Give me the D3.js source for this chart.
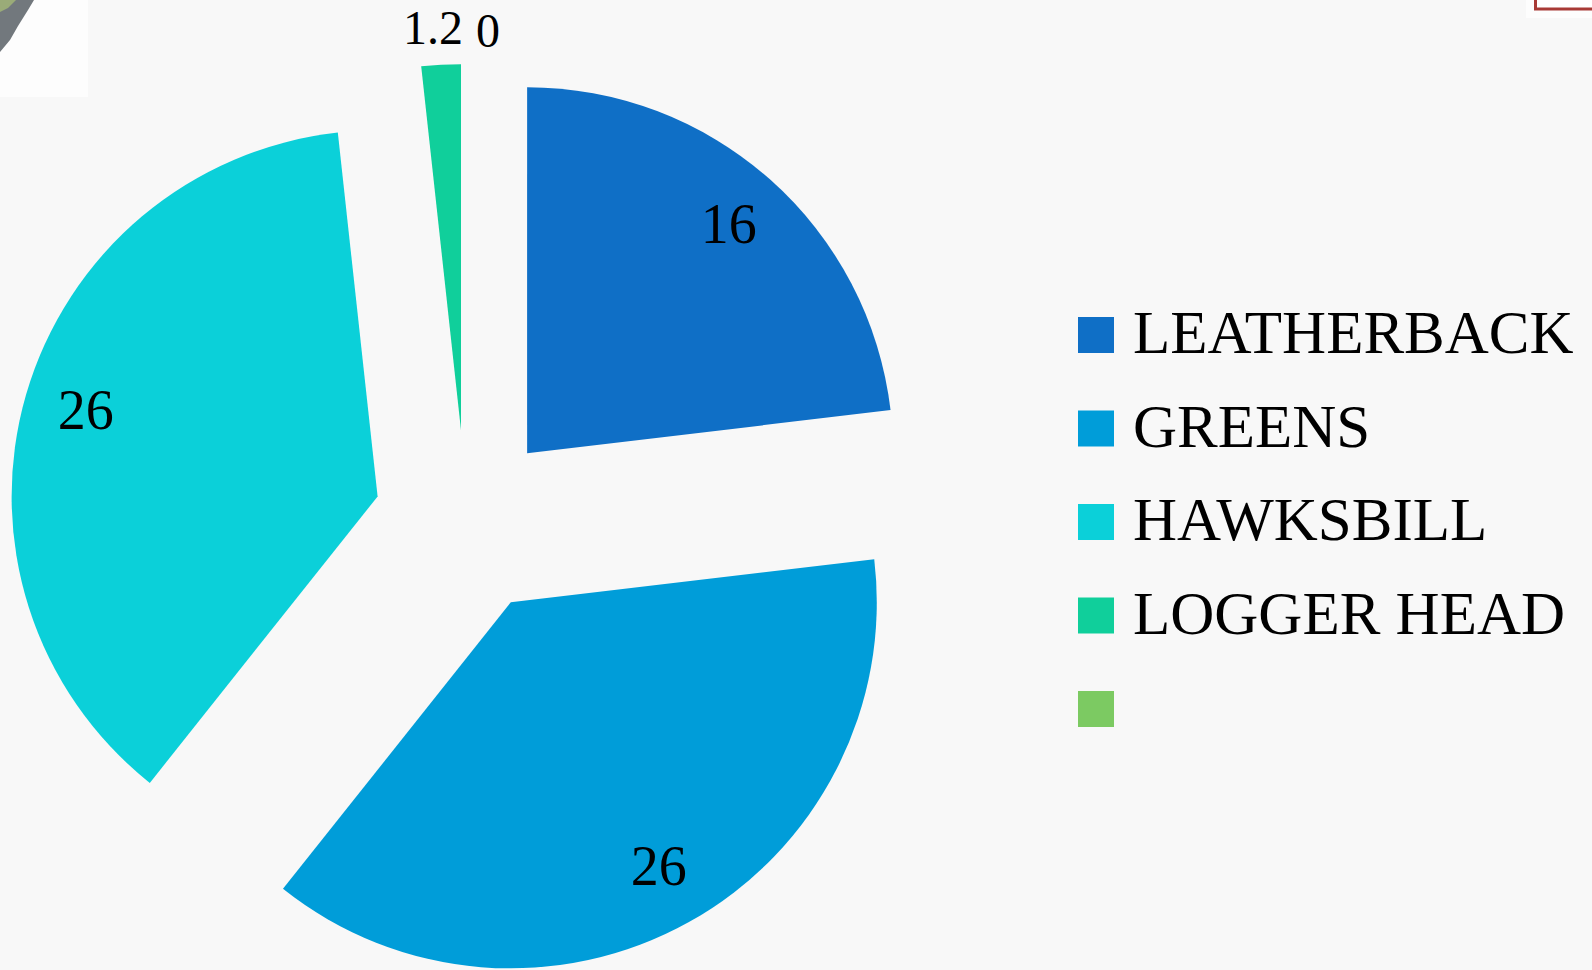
<!DOCTYPE html>
<html lang="en">
<head>
<meta charset="utf-8">
<title>Sea turtle species</title>
<script src="https://d3js.org/d3.v7.min.js"></script>
<style>
  body { margin: 0; background: #f8f8f8; }
  svg { display: block; }
  text { font-family: 'Liberation Serif', 'DejaVu Serif', serif; fill: #000; }
</style>
</head>
<body>
<svg></svg>
<script>
// data
const species = ['LEATHERBACK', 'GREENS', 'HAWKSBILL', 'LOGGER HEAD', ''];
const counts = [16, 26, 26, 1.2, 0];
const valueLabels = ['16', '26', '26', '1.2', '0'];
const colours = ['#0f6fc6', '#009dd9', '#0bd0d9', '#10cf9b', '#7cca62'];

const w = 1592, h = 970;
const cx = 466, cy = 522;      // centre of the un-exploded pie
const r = 366, explode = 92;

const svg = d3.select('svg').attr('width', w).attr('height', h);

svg.append('rect').attr('width', w).attr('height', h).attr('fill', '#f8f8f8');

// bits of other slide objects peeking in at the corners
svg.append('rect').attr('x', 0).attr('y', 0).attr('width', 88).attr('height', 97).attr('fill', '#fdfdfd');
svg.append('path').attr('d', 'M0,8 L10,0 L34,0 L28,10 L18,26 L10,40 L0,52 Z').attr('fill', '#4f565c').attr('opacity', 0.8);
svg.append('path').attr('d', 'M0,0 L16,0 L8,8 L0,12 Z').attr('fill', '#9aab78');
svg.append('rect').attr('x', 1526).attr('y', 0).attr('width', 66).attr('height', 18).attr('fill', '#fdfdfd');
svg.append('rect').attr('x', 1535.5).attr('y', -10).attr('width', 70).attr('height', 19)
  .attr('fill', '#fff').attr('stroke', '#a83a36').attr('stroke-width', 3);

const pie = d3.pie().sort(null).value(d => d)(counts);
const arc = d3.arc().innerRadius(0).outerRadius(r);
const total = d3.sum(counts);

const mid = d => (d.startAngle + d.endAngle) / 2;
const dir = a => [Math.sin(a), -Math.cos(a)];

const slices = svg.append('g');
slices.selectAll('path')
  .data(pie)
  .join('path')
  .attr('d', arc)
  .attr('fill', (d, i) => colours[i])
  .attr('transform', d => {
    const [ux, uy] = dir(mid(d));
    return `translate(${cx + ux * explode},${cy + uy * explode})`;
  });

// labels: inside for big slices, above the pie for the tiny ones
const outsideNudge = { 3: [24, 19, 'end'], 4: [10, 23, 'start'] };
svg.append('g').selectAll('text')
  .data(pie)
  .join('text')
  .text((d, i) => valueLabels[i])
  .each(function (d, i) {
    const [ux, uy] = dir(mid(d));
    const t = d3.select(this);
    if (d.value / total > 0.05) {
      const dist = explode + 0.83 * r;
      t.style('font-size', '56px')
        .attr('x', cx + ux * dist).attr('y', cy + uy * dist)
        .attr('dy', '0.3em').attr('text-anchor', 'middle');
    } else {
      const dist = explode + r + 40;
      const n = outsideNudge[i];
      t.style('font-size', '48px')
        .attr('x', cx + ux * dist + n[0]).attr('y', cy + uy * dist + n[1])
        .attr('text-anchor', n[2]);
    }
  });

// legend
const legend = svg.append('g').attr('transform', 'translate(1078,317)');
const rows = legend.selectAll('g')
  .data(species)
  .join('g')
  .attr('transform', (d, i) => `translate(0,${i * 93.5})`);
rows.append('rect')
  .attr('width', 36).attr('height', 36)
  .attr('fill', (d, i) => colours[i]);
rows.append('text')
  .attr('x', 55).attr('y', 36)
  .style('font-size', '61px')
  .text(d => d);
</script>
</body>
</html>
